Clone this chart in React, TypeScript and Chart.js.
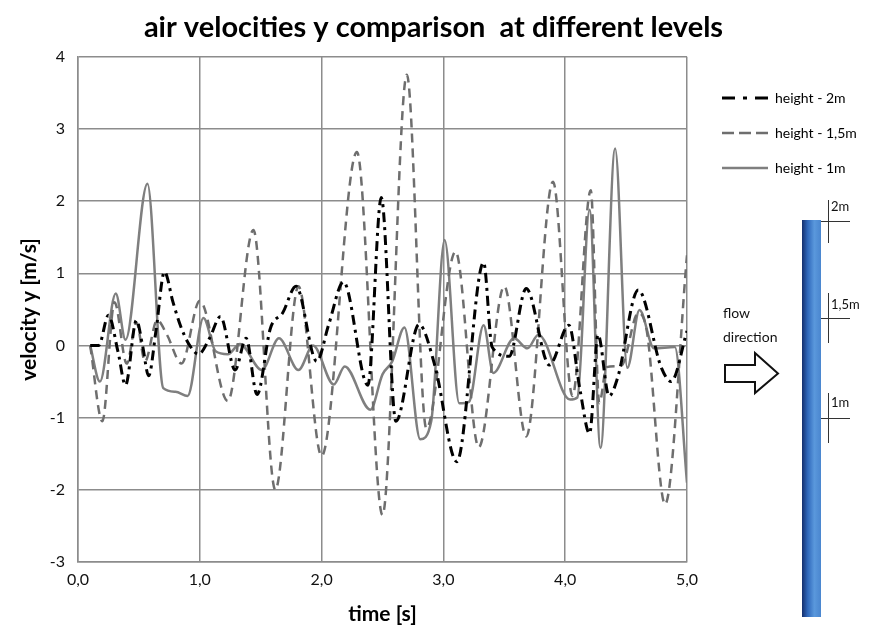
import React, { useEffect, useRef } from 'react';
import { Chart, registerables } from 'chart.js';

Chart.register(...registerables);

const TITLE = 'air velocities y comparison  at different levels';
const X_TITLE = 'time [s]';
const Y_TITLE = 'velocity y [m/s]';
const SERIES_LABELS = ['height - 2m', 'height - 1,5m', 'height - 1m'];
const MARK_LABELS = ['2m', '1,5m', '1m'];
const FLOW_LABEL = ['flow', 'direction'];

// height - 2m (dash-dot, black)
const t2m = [0.1, 0.17, 0.25, 0.33, 0.39, 0.48, 0.53, 0.58, 0.64, 0.71, 0.78, 0.84, 0.91, 0.99, 1.08, 1.17, 1.29, 1.38, 1.47, 1.58, 1.68, 1.79, 1.96, 2.06, 2.18, 2.38, 2.49, 2.61, 2.8, 2.93, 3.11, 3.33, 3.4, 3.54, 3.68, 3.87, 4.03, 4.12, 4.2, 4.27, 4.36, 4.43, 4.6, 4.79, 4.87, 5.0];
const v2m = [0, 0, 0.42, -0.1, -0.55, 0.35, 0.0, -0.42, 0.2, 1.02, 0.6, 0.28, 0.02, -0.12, 0.1, 0.4, -0.34, 0.1, -0.68, 0.24, 0.45, 0.82, -0.22, 0.3, 0.88, -0.55, 2.05, -1.05, 0.29, -0.28, -1.61, 1.15, -0.02, -0.15, 0.79, -0.27, 0.28, -0.6, -1.22, 0.15, -0.7, -0.45, 0.77, -0.31, -0.5, 0.2];

// height - 1,5m (dashed, gray)
const t15m = [0.1, 0.2, 0.3, 0.4, 0.48, 0.55, 0.65, 0.73, 0.85, 1.0, 1.23, 1.44, 1.62, 1.81, 2.0, 2.29, 2.5, 2.7, 2.86, 3.1, 3.29, 3.5, 3.68, 3.9, 4.06, 4.21, 4.28, 4.34, 4.46, 4.6, 4.67, 4.82, 5.0];
const v15m = [0, -1.05, 0.6, -0.25, 0.32, -0.22, 0.35, 0.15, -0.25, 0.62, -0.77, 1.6, -2.0, 0.82, -1.53, 2.68, -2.35, 3.75, -1.15, 1.3, -1.41, 0.82, -1.26, 2.27, -0.7, 2.15, -0.8, -0.3, -0.28, 0.45, 0.2, -2.2, 1.25];

// height - 1m (solid, gray)
const t1m = [0.1, 0.18, 0.31, 0.39, 0.57, 0.7, 0.8, 0.9, 1.03, 1.13, 1.23, 1.33, 1.51, 1.65, 1.81, 1.93, 2.1, 2.19, 2.4, 2.5, 2.58, 2.68, 2.81, 2.9, 3.01, 3.13, 3.21, 3.33, 3.41, 3.58, 3.69, 3.78, 4.04, 4.1, 4.2, 4.29, 4.41, 4.51, 4.61, 4.73, 4.9, 5.0];
const v1m = [0, -0.5, 0.72, 0.08, 2.24, -0.59, -0.64, -0.7, 0.38, -0.08, -0.12, 0.02, -0.34, 0.1, -0.34, 0.0, -0.54, -0.29, -0.89, -0.4, -0.22, 0.25, -1.3, -1.05, 1.46, -0.8, -0.78, 0.28, -0.38, 0.1, -0.04, 0.15, -0.75, -0.72, 1.88, -1.42, 2.73, -0.31, 0.49, -0.04, -0.02, -1.9];

const X_MIN = 0, X_MAX = 5, Y_MIN = -3, Y_MAX = 4;

const toPts = (ts: number[], vs: number[]) => ts.map((t, i) => ({ x: t, y: vs[i] }));

const GRID = '#8c8c8c';
const FONT = 'Lato';

const STYLES = [
  { color: '#000000', width: 3, dash: [10, 5, 3, 5], legendDash: [13, 8, 4, 8] },
  { color: '#6e6e6e', width: 2.5, dash: [9, 6], legendDash: [12, 5] },
  { color: '#7f7f7f', width: 2.5, dash: [] as number[], legendDash: [] as number[] },
];

function legendImage(s: { color: string; width: number; legendDash: number[] }) {
  const c = document.createElement('canvas');
  c.width = 46;
  c.height = 6;
  const g = c.getContext('2d')!;
  g.strokeStyle = s.color;
  g.lineWidth = s.width;
  g.setLineDash(s.legendDash);
  g.beginPath();
  g.moveTo(0, 3);
  g.lineTo(46, 3);
  g.stroke();
  return c;
}

const diagramPlugin = {
  id: 'diagram',
  afterDraw(chart: any) {
    const ctx: CanvasRenderingContext2D = chart.ctx;
    ctx.save();
    const px0 = 794, px1 = 813, py0 = 212, py1 = 609;
    const g = ctx.createLinearGradient(px0, 0, px1, 0);
    g.addColorStop(0, '#142f6e');
    g.addColorStop(0.3, '#2f68bb');
    g.addColorStop(0.65, '#5a98dc');
    g.addColorStop(1, '#4a86cf');
    ctx.fillStyle = g;
    ctx.fillRect(px0, py0, px1 - px0, py1 - py0);
    const marks = [
      { y: 213, vy0: 192, vy1: 235, ly: 199 },
      { y: 310, vy0: 285, vy1: 335, ly: 297 },
      { y: 410, vy0: 385, vy1: 435, ly: 395 },
    ];
    ctx.strokeStyle = '#333';
    ctx.lineWidth = 1;
    ctx.fillStyle = '#111';
    ctx.font = `13px ${FONT}`;
    ctx.textBaseline = 'middle';
    ctx.textAlign = 'left';
    marks.forEach((m, i) => {
      ctx.beginPath();
      ctx.moveTo(px1, m.y + 0.5);
      ctx.lineTo(842, m.y + 0.5);
      ctx.moveTo(820.5, m.vy0);
      ctx.lineTo(820.5, m.vy1);
      ctx.stroke();
      ctx.fillText(MARK_LABELS[i], 823, m.ly);
    });
    ctx.font = `14px ${FONT}`;
    ctx.fillText(FLOW_LABEL[0], 715, 305);
    ctx.fillText(FLOW_LABEL[1], 715, 329);
    ctx.beginPath();
    ctx.moveTo(717, 357);
    ctx.lineTo(747, 357);
    ctx.lineTo(747, 345);
    ctx.lineTo(770, 365.5);
    ctx.lineTo(747, 385);
    ctx.lineTo(747, 374);
    ctx.lineTo(717, 374);
    ctx.closePath();
    ctx.fillStyle = '#fff';
    ctx.fill();
    ctx.strokeStyle = '#111';
    ctx.lineWidth = 2;
    ctx.lineJoin = 'miter';
    ctx.stroke();
    ctx.restore();
  },
};

export default function App() {
  const ref = useRef<HTMLCanvasElement | null>(null);
  useEffect(() => {
    if (!ref.current) return;
    Chart.defaults.font.family = FONT;
    const imgs = STYLES.map(legendImage);
    const series = [toPts(t2m, v2m), toPts(t15m, v15m), toPts(t1m, v1m)];
    const chart = new Chart(ref.current, {
      type: 'line',
      data: {
        datasets: series.map((d, i) => ({
          label: SERIES_LABELS[i],
          data: d,
          borderColor: STYLES[i].color,
          backgroundColor: STYLES[i].color,
          borderWidth: STYLES[i].width,
          borderDash: STYLES[i].dash,
          fill: false,
        })),
      },
      options: {
        animation: false,
        responsive: false,
        layout: { padding: { top: 0, right: 16, bottom: 0, left: 0 } },
        elements: {
          point: { radius: 0, hoverRadius: 0 },
          line: { cubicInterpolationMode: 'monotone' },
        },
        plugins: {
          title: {
            display: true,
            text: TITLE,
            color: '#000',
            font: { size: 29, weight: 'bold', family: FONT, lineHeight: 1.2 },
            padding: { top: 2, bottom: 12 },
          },
          legend: {
            position: 'right',
            align: 'start',
            maxWidth: 158,
            title: { display: true, text: ' ', font: { size: 10, lineHeight: 1 }, padding: { top: 0, bottom: 52 } },
            labels: {
              usePointStyle: true,
              pointStyleWidth: 46,
              padding: 21,
              color: '#000',
              font: { size: 14, family: FONT },
              generateLabels: (c: any) =>
                Chart.defaults.plugins.legend.labels.generateLabels(c).map((it: any, i: number) => ({
                  ...it,
                  pointStyle: imgs[i],
                })),
            },
          },
          tooltip: { enabled: false },
        },
        scales: {
          x: {
            type: 'linear',
            min: X_MIN,
            max: X_MAX,
            ticks: {
              stepSize: 1,
              color: '#111',
              padding: 8,
              font: { size: 16, family: FONT },
              callback: (v: any) => Number(v).toFixed(1).replace('.', ','),
            },
            grid: { color: GRID, lineWidth: 1.5, drawTicks: false },
            border: { color: GRID, width: 1.5 },
            title: {
              display: true,
              text: X_TITLE,
              color: '#000',
              font: { size: 21, weight: 'bold', family: FONT, lineHeight: 1 },
              padding: { top: 7, bottom: 0 },
            },
            afterFit: (s: any) => { s.height = 63; },
          },
          y: {
            type: 'linear',
            min: Y_MIN,
            max: Y_MAX,
            ticks: {
              stepSize: 1,
              color: '#111',
              padding: 13,
              font: { size: 16, family: FONT },
            },
            grid: { color: GRID, lineWidth: 1.5, drawTicks: false },
            border: { color: GRID, width: 1.5 },
            title: {
              display: true,
              text: Y_TITLE,
              color: '#000',
              font: { size: 21, weight: 'bold', family: FONT, lineHeight: 1 },
              padding: { top: 11, bottom: 0 },
            },
            afterFit: (s: any) => { s.width = 70; },
          },
          y2: {
            type: 'linear',
            position: 'right',
            display: true,
            grid: { display: false },
            border: { display: false },
            ticks: { display: false },
            afterFit: (s: any) => { s.width = 14; },
          },
        },
      },
      plugins: [diagramPlugin],
    });
    return () => chart.destroy();
  }, []);
  return (
    <div style={{ width: 867, height: 617 }}>
      <canvas ref={ref} width={867} height={617} style={{ display: 'block' }} />
    </div>
  );
}
